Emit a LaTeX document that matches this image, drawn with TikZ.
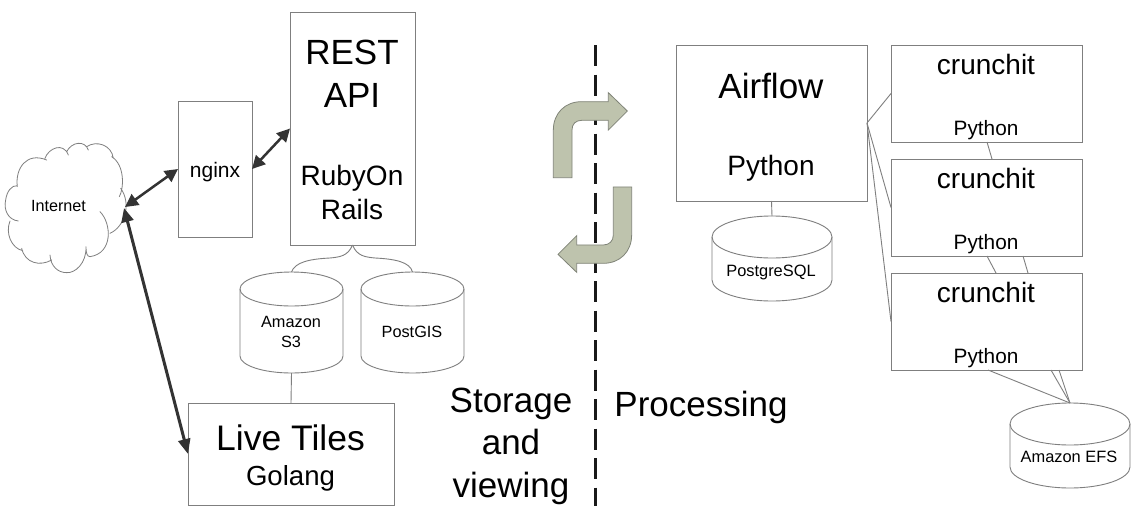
\documentclass[tikz,border=0pt]{standalone}
\usepackage{fontspec}
\setmainfont{Liberation Sans}
\usetikzlibrary{arrows.meta,calc}
\definecolor{edgegray}{HTML}{7F7F7F}
\definecolor{arrowdark}{HTML}{333333}
\definecolor{bentfill}{HTML}{BEC3AD}
\definecolor{bentedge}{HTML}{808478}
\newcommand{\fsz}[1]{\fontsize{#1}{#1}\selectfont}
\newcommand{\dbcyl}[6]{% name, left, top, width, height, ry
  \node[anchor=north west,inner sep=0pt,outer sep=0pt,minimum width=#4pt,minimum height=#5pt] (#1) at (#2,#3) {};
  \draw[thinline] ([yshift=-#6pt]#1.north west) -- ([yshift=#6pt]#1.south west)
     arc[start angle=180,end angle=360,x radius=#4pt/2,y radius=#6pt]
     -- ([yshift=-#6pt]#1.north east);
  \draw[thinline] ([yshift=-#6pt]#1.north) ellipse[x radius=#4pt/2,y radius=#6pt];
}
\tikzset{
  thinline/.style={draw=edgegray,line width=0.9pt},
  boxnode/.style={draw=edgegray,line width=1pt,anchor=north west,inner sep=0pt,outer sep=0pt,fill=white},
  lab/.style={anchor=base,inner sep=0pt,outer sep=0pt,text=black},
  boldarrow/.style={draw=arrowdark,line width=2.5pt,{Triangle[length=13pt,width=13pt]}-{Triangle[length=13pt,width=13pt]},shorten <=0pt,shorten >=0pt},
  bentarrow/.style={fill=bentfill,draw=bentedge,line width=0.8pt,line join=miter},
  divider/.style={draw=black!90,line width=3pt,dash pattern=on 21pt off 8.5pt}
}
\begin{document}
\begin{tikzpicture}[x=1pt,y=-1pt]
\useasboundingbox (0,0) rectangle (1136,509);
\fill[white] (0,0) rectangle (1136,509);

% divider
\coordinate (divtop) at (595,45);
\coordinate (divbot) at (595,506);
\draw[divider] (divtop) -- (divbot);

% boxes
\node[boxnode,minimum width=125pt,minimum height=233pt] (rest) at (290,12) {};
\node[boxnode,minimum width=74pt,minimum height=136pt] (nginx) at (178,101) {};
\node[boxnode,minimum width=206pt,minimum height=102pt] (live) at (188,403) {};
\node[boxnode,minimum width=191pt,minimum height=156pt] (airflow) at (676,45) {};
\node[boxnode,minimum width=191pt,minimum height=97pt] (crunchA) at (891,45) {};
\node[boxnode,minimum width=191pt,minimum height=97pt] (crunchB) at (891,159) {};
\node[boxnode,minimum width=191pt,minimum height=97pt] (crunchC) at (891,273) {};

% cylinders
\dbcyl{sthree}{240}{272}{103}{101}{17}
\dbcyl{postgis}{361}{272}{103}{101}{17}
\dbcyl{postgres}{712}{216}{120}{85}{21}
\dbcyl{efs}{1010}{403}{120}{85}{21}

% cloud
\begin{scope}[x=0.3333pt,y=-0.3333pt,yshift=-120pt]
\draw[thinline,line width=0.8pt,line cap=round]
  (52,200) .. controls (45,145) and (80,95) .. (140,120)
  (135,115) .. controls (145,85) and (190,65) .. (205,105)
  (200,95) .. controls (215,65) and (255,60) .. (265,90)
  (260,80) .. controls (290,60) and (335,75) .. (340,115)
  (335,110) .. controls (375,135) and (372,205) .. (358,230)
  (362,205) .. controls (395,250) and (375,320) .. (330,340)
  (300,275) .. controls (335,310) and (340,400) .. (270,410) .. controls (262,410) and (258,400) .. (258,382)
  (258,380) .. controls (260,430) and (225,460) .. (200,458) .. controls (175,458) and (152,440) .. (150,405)
  (155,420) .. controls (120,440) and (75,430) .. (65,385)
  (68,392) .. controls (35,385) and (15,340) .. (30,303)
  (55,303) .. controls (25,300) and (10,270) .. (17,240) .. controls (20,215) and (35,195) .. (52,197);
\end{scope}
\coordinate (cloudr) at (125,207);
\coordinate (cloudl) at (124,208);

% thin connectors
\draw[thinline] (airflow.east) -- (crunchA.west);
\draw[thinline] (airflow.east) -- (crunchB.west);
\draw[thinline] (airflow.east) -- (crunchC.west);
\draw[thinline] (postgres.north) -- (airflow.south);
\draw[thinline] (sthree.south) -- (live.north);
\coordinate (midl) at (330,258);
\coordinate (midr) at (375,258);
\draw[thinline] (rest.south) .. controls (348,256) and (340,257) .. (midl) .. controls (310,259) and (295,262) .. (sthree.north);
\draw[thinline] (rest.south) .. controls (357,256) and (365,257) .. (midr) .. controls (395,259) and (410,262) .. (postgis.north);
\coordinate (cAout) at (987,142);
\coordinate (cBin) at (992,159);
\coordinate (cBoutA) at (987,256);
\coordinate (cCinA) at (996,273);
\coordinate (cBoutB) at (1023,256);
\coordinate (cCinB) at (1028,273);
\coordinate (cCoutA) at (988,370);
\coordinate (cCoutB) at (1051,370);
\coordinate (cCoutC) at (1059,370);
\draw[thinline] (cAout) -- (cBin);
\draw[thinline] (cBoutA) -- (cCinA);
\draw[thinline] (cBoutB) -- (cCinB);
\draw[thinline] (cCoutA) -- (efs.north);
\draw[thinline] (cCoutB) -- (efs.north);
\draw[thinline] (cCoutC) -- (efs.north);

% bold arrows
\draw[boldarrow] (nginx.east) -- (rest.west);
\draw[boldarrow] (cloudr) -- (nginx.west);
\draw[boldarrow,line width=3pt,{Triangle[length=14pt,width=12pt]}-{Triangle[length=15pt,width=12pt]}] (cloudl) -- (live.west);

% bent arrows
\begin{scope}[x=0.3333pt,y=-0.3333pt,xshift=540pt,yshift=-40pt]
\path[bentarrow] (40,413) -- (40,270) .. controls (40,220) and (75,185) .. (125,185) -- (205,185) -- (205,158) -- (262,213) -- (205,270) -- (205,241) -- (125,241) .. controls (107,241) and (96,252) .. (96,270) -- (96,413) -- cycle;
\path[bentarrow] (275,441) -- (275,585) .. controls (275,635) and (240,670) .. (190,670) -- (110,670) -- (110,697) -- (54,643) -- (110,587) -- (110,615) -- (190,615) .. controls (208,615) and (220,603) .. (220,585) -- (220,441) -- cycle;
\end{scope}

% labels
\node[lab,font=\fsz{35}] (tRest) at (352,64) {REST};
\node[lab,font=\fsz{35}] (tApi) at (352,107) {API};
\node[lab,font=\fsz{28}] (tRuby) at (352,185) {RubyOn};
\node[lab,font=\fsz{28}] (tRails) at (352,219) {Rails};
\node[lab,font=\fsz{21}] (tNginx) at (215,177) {nginx};
\node[lab,font=\fsz{16.2}] (tNet) at (58.5,211) {Internet};
\node[lab,font=\fsz{16.3}] (tAmz) at (291,327) {Amazon};
\node[lab,font=\fsz{16.3}] (tSthree) at (291,347) {S3};
\node[lab,font=\fsz{16.3}] (tGis) at (412,337) {PostGIS};
\node[lab,font=\fsz{35.5}] (tLive) at (290.5,450) {Live Tiles};
\node[lab,font=\fsz{27.6}] (tGo) at (290.5,485) {Golang};
\node[lab,font=\fsz{35}] (tSto) at (511,412) {Storage};
\node[lab,font=\fsz{35}] (tAnd) at (511,454) {and};
\node[lab,font=\fsz{35}] (tView) at (511,497) {viewing};
\node[lab,font=\fsz{35}] (tProc) at (701,416) {Processing};
\node[lab,font=\fsz{35}] (tAir) at (771,98) {Airflow};
\node[lab,font=\fsz{28}] (tAirPy) at (771,175) {Python};
\node[lab,font=\fsz{16.4}] (tPg) at (771,276) {PostgreSQL};
\node[lab,font=\fsz{16.4}] (tEfs) at (1069,462) {Amazon EFS};
\node[lab,font=\fsz{28}] (tCa) at (986,74) {crunchit};
\node[lab,font=\fsz{28}] (tCb) at (986,188) {crunchit};
\node[lab,font=\fsz{28}] (tCc) at (986,302) {crunchit};
\node[lab,font=\fsz{20.8}] (tPa) at (986,135) {Python};
\node[lab,font=\fsz{20.8}] (tPb) at (986,249) {Python};
\node[lab,font=\fsz{20.8}] (tPc) at (986,363) {Python};
\end{tikzpicture}
\end{document}
